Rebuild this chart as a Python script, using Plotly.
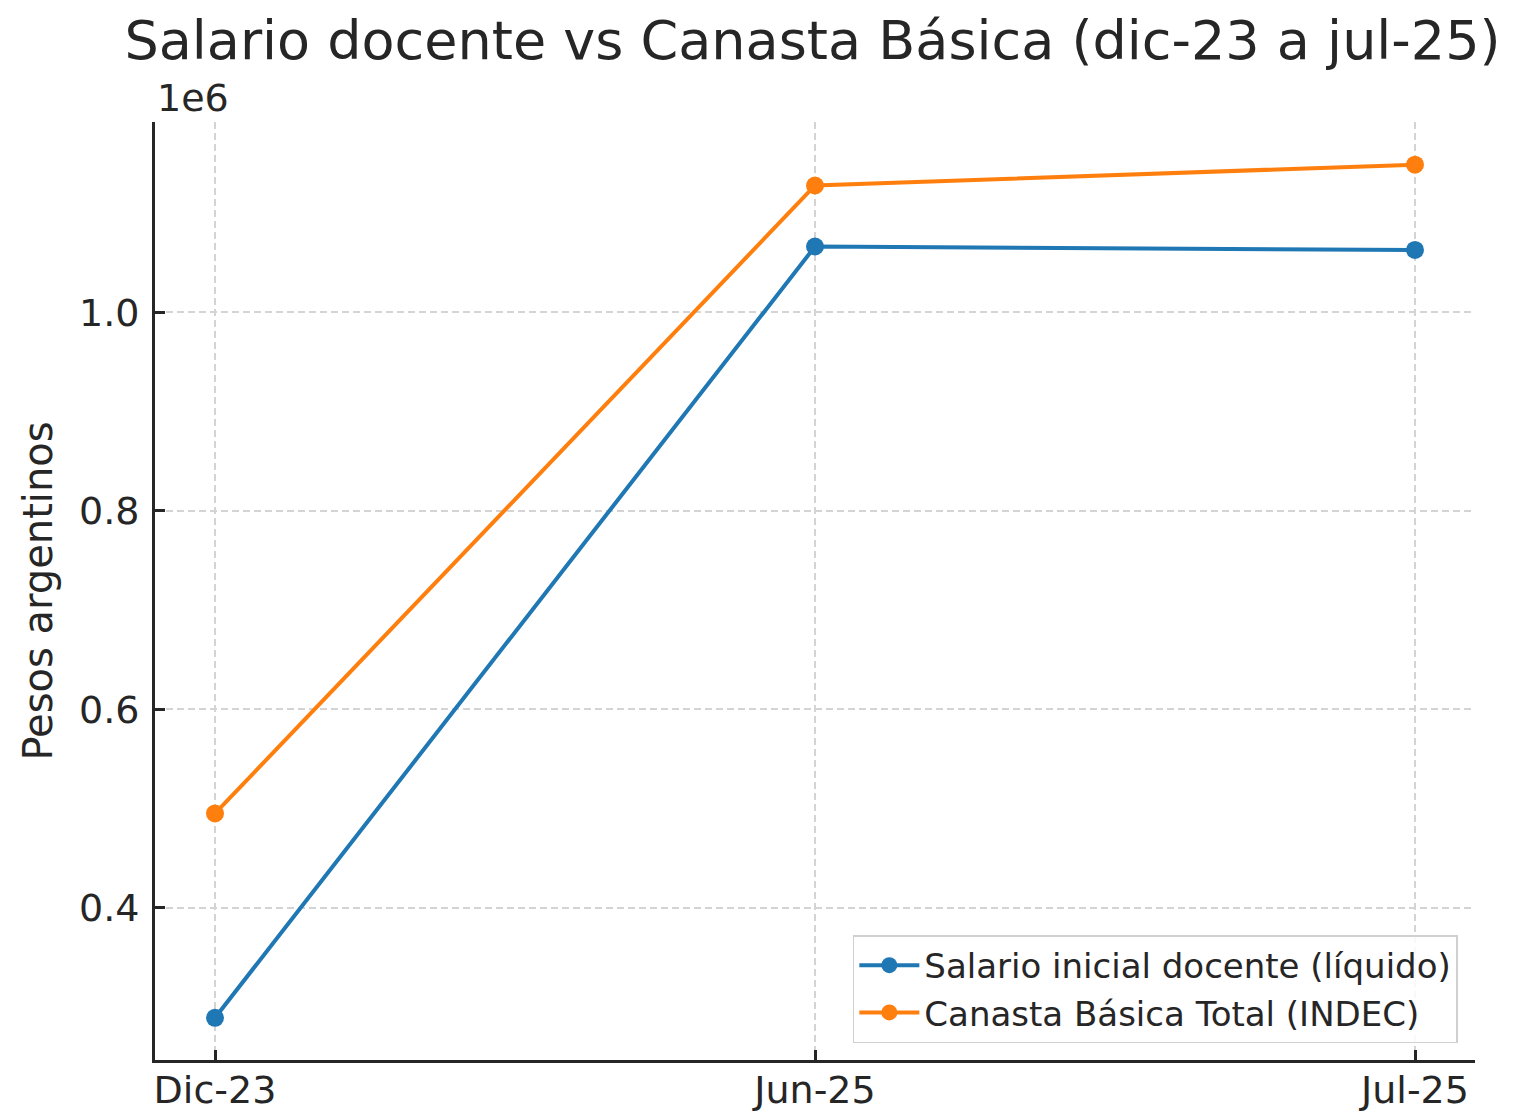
import plotly.graph_objects as go

categories = ["Dic-23", "Jun-25", "Jul-25"]
salario = [289000, 1066500, 1063000]
canasta = [495000, 1128000, 1149000]
ytick_vals = [400000, 600000, 800000, 1000000]
ytick_text = ["0.4", "0.6", "0.8", "1.0"]

FONT = "DejaVu Sans"
TXT = "#262626"

fig = go.Figure()
fig.add_trace(go.Scatter(
    x=list(range(len(categories))), y=salario, mode="lines+markers",
    name="Salario inicial docente (líquido)",
    line=dict(color="#1f77b4", width=4),
    marker=dict(color="#1f77b4", size=18),
))
fig.add_trace(go.Scatter(
    x=list(range(len(categories))), y=canasta, mode="lines+markers",
    name="Canasta Básica Total (INDEC)",
    line=dict(color="#ff7f0e", width=4),
    marker=dict(color="#ff7f0e", size=18),
))

fig.update_layout(
    width=1514, height=1112,
    paper_bgcolor="white", plot_bgcolor="white",
    margin=dict(l=147, r=47, t=114, b=60, autoexpand=False),
    font=dict(family=FONT, color=TXT, size=38),
    title=dict(text="Salario docente vs Canasta Básica (dic-23 a jul-25)",
               x=0.5314, xanchor="center", y=0.9712, yanchor="middle",
               font=dict(size=54, family=FONT, color=TXT)),
    showlegend=True,
    legend=dict(x=0.987, xanchor="right", y=0.018, yanchor="bottom",
                bgcolor="rgba(255,255,255,0.85)", bordercolor="#d0d0d0", borderwidth=1.5,
                font=dict(size=34, family=FONT, color=TXT),
                itemwidth=60),
    xaxis=dict(
        range=[-0.1, 2.1], tickmode="array", automargin=False,
        tickvals=list(range(len(categories))), ticktext=categories,
        showgrid=True, gridcolor="#d4d4d4", griddash="7px,4px", gridwidth=1.5,
        showline=True, linecolor=TXT, linewidth=3,
        ticks="inside", ticklen=10, tickwidth=2.5, tickcolor=TXT,
        zeroline=False, tickfont=dict(size=38), ticklabelstandoff=-6,
    ),
    yaxis=dict(
        range=[246500, 1192000], tickmode="array", automargin=False,
        tickvals=ytick_vals, ticktext=ytick_text,
        showgrid=True, gridcolor="#d4d4d4", griddash="7px,4px", gridwidth=1.5,
        showline=True, linecolor=TXT, linewidth=3,
        ticks="inside", ticklen=10, tickwidth=2.5, tickcolor=TXT,
        zeroline=False, tickfont=dict(size=38), ticklabelstandoff=5,
        title=dict(text="Pesos argentinos", font=dict(size=40), standoff=14),
    ),
)
fig.add_annotation(text="1e6", xref="paper", yref="paper", x=0.0, y=1.0,
                   xanchor="left", yanchor="bottom", yshift=0, showarrow=False,
                   font=dict(size=38, family=FONT, color=TXT))

fig.write_html("out.html")
